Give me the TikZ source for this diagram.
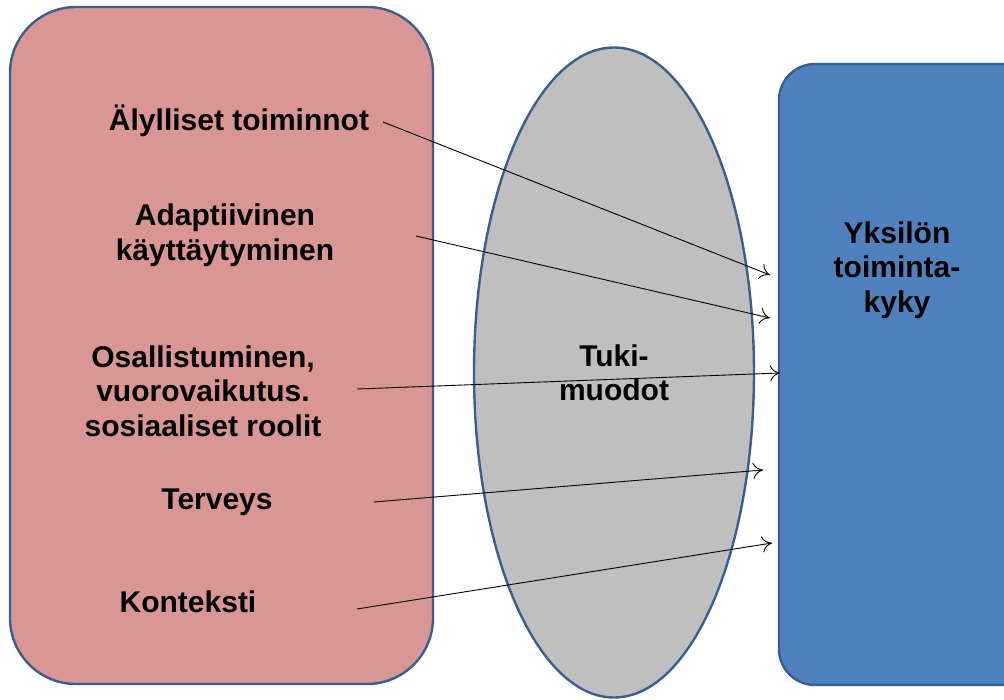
\documentclass[tikz,border=0pt]{standalone}
\usepackage{fontspec}
\setmainfont{Liberation Sans}
\usetikzlibrary{arrows.meta}
\definecolor{pinkfill}{HTML}{D99694}
\definecolor{bluefill}{HTML}{4F81BD}
\definecolor{grayfill}{HTML}{BFBFBF}
\definecolor{edge}{HTML}{3A5F8F}
\begin{document}
\begin{tikzpicture}[x=1pt,y=-1pt,
  shapeline/.style={draw=edge,line width=2.4pt},
  lbl/.style={font=\bfseries\fontsize{30}{34.5}\selectfont,align=center,inner sep=0pt},
  conn/.style={-{To[length=10pt,width=16pt,line width=0.9pt]},line width=0.9pt,black}]
\useasboundingbox (0,0) rectangle (1004,699);
\clip (0,0) rectangle (1004,699);
\fill[white] (0,0) rectangle (1004,699);
\draw[shapeline,fill=pinkfill,rounded corners=66pt] (10,7) rectangle (433,684);
\draw[shapeline,fill=grayfill] (614,372.5) ellipse [x radius=140, y radius=325];
\draw[shapeline,fill=bluefill,rounded corners=36pt] (779,64) rectangle (1050,685);
\node[lbl] (alyl) at (239,121) {Älylliset toiminnot};
\node[lbl] (adap) at (225,235) {Adaptiivinen\\käyttäytyminen};
\node[lbl] (osal) at (203,391) {Osallistuminen,\\vuorovaikutus.\\sosiaaliset roolit};
\node[lbl] (terv) at (217,502) {Terveys};
\node[lbl] (kont) at (188,602) {Konteksti};
\node[lbl] (tuki) at (614,373) {Tuki-\\muodot};
\node[lbl] (yks) at (897,270) {Yksilön\\toiminta-\\kyky};
\coordinate (s1) at (383,122); \coordinate (e1) at (770,275);
\coordinate (s2) at (416,236); \coordinate (e2) at (770,318);
\coordinate (s3) at (357,389); \coordinate (e3) at (780,373);
\coordinate (s4) at (374,502); \coordinate (e4) at (763,470);
\coordinate (s5) at (357,609); \coordinate (e5) at (772,543);
\draw[conn] (s1) -- (e1);
\draw[conn] (s2) -- (e2);
\draw[conn] (s3) -- (e3);
\draw[conn] (s4) -- (e4);
\draw[conn] (s5) -- (e5);
\end{tikzpicture}
\end{document}
